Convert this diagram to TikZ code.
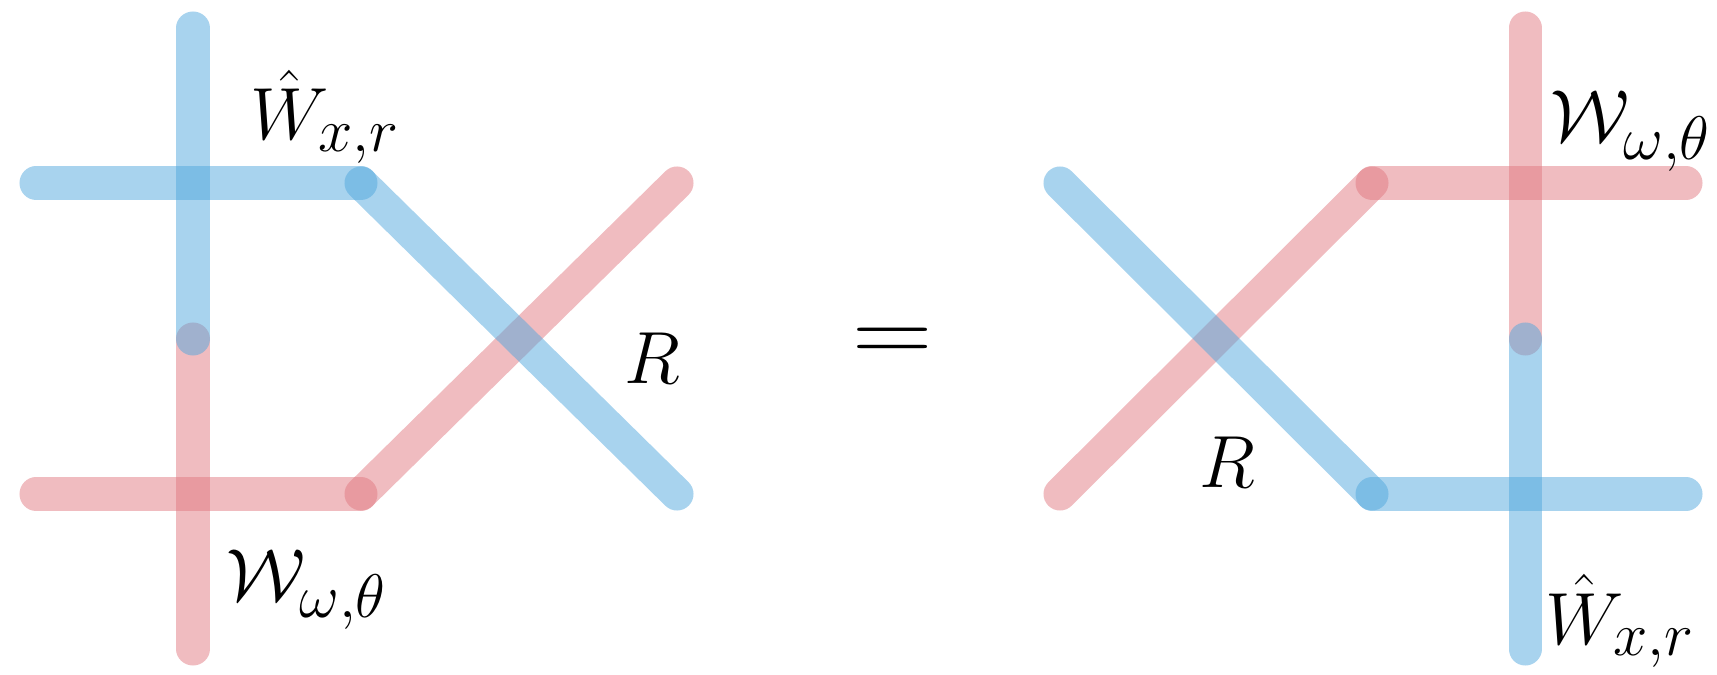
\documentclass[tikz,border=0pt]{standalone}
\usepackage{amsmath}
\definecolor{wblue}{RGB}{81,167,221}
\definecolor{wred}{RGB}{225,121,129}
\newcommand{\biglab}[1]{\scalebox{1.69}{\Huge$#1$}}
\begin{document}
\begin{tikzpicture}[x=0.02cm,y=-0.02cm,
  wire/.style={line width=18.8pt, line cap=round, draw opacity=0.5},
  bluewire/.style={wire, draw=wblue},
  redwire/.style={wire, draw=wred},
  lab/.style={inner sep=0pt, anchor=base west}]
\useasboundingbox (0,0) rectangle (1717,675);
% left diagram
\coordinate (LtA) at (36,183);
\coordinate (LtJ) at (361,183);
\coordinate (LbA) at (36,494);
\coordinate (LbJ) at (361,494);
\coordinate (LdT) at (677,183);
\coordinate (LdB) at (677,494);
\coordinate (LvT) at (193,28);
\coordinate (LvM) at (193,339);
\coordinate (LvB) at (193,649);
% right diagram
\coordinate (RdT) at (1060,183);
\coordinate (RdB) at (1060,494);
\coordinate (RJt) at (1372,183);
\coordinate (RJb) at (1372,494);
\coordinate (RtE) at (1686,183);
\coordinate (RbE) at (1686,494);
\coordinate (RvT) at (1525,28);
\coordinate (RvM) at (1525,339);
\coordinate (RvB) at (1525,649);
% red wires
\draw[redwire] (LvM) -- (LvB);
\draw[redwire] (LbA) -- (LbJ);
\draw[redwire] (LbJ) -- (LdT);
\draw[redwire] (RvT) -- (RvM);
\draw[redwire] (RJt) -- (RtE);
\draw[redwire] (RdB) -- (RJt);
% blue wires
\draw[bluewire] (LvT) -- (LvM);
\draw[bluewire] (LtA) -- (LtJ);
\draw[bluewire] (LtJ) -- (LdB);
\draw[bluewire] (RvM) -- (RvB);
\draw[bluewire] (RJb) -- (RbE);
\draw[bluewire] (RdT) -- (RJb);
% labels
\node[lab] (Lhat) at (250,140) {\biglab{\hat{W}_{x,r}}};
\node[lab] (Ltil) at (226,600) {\biglab{\mathcal{W}_{\omega,\theta}}};
\node[lab] (LR) at (624,383) {\biglab{R}};
\node[lab] (eq) at (852,363) {\scalebox{2.55}[2.21]{\Huge$=$}};
\node[lab] (Rtil) at (1550,142) {\biglab{\mathcal{W}_{\omega,\theta}}};
\node[lab] (RR) at (1199,487) {\biglab{R}};
\node[lab] (Rhat) at (1545,644) {\biglab{\hat{W}_{x,r}}};
\end{tikzpicture}
\end{document}
